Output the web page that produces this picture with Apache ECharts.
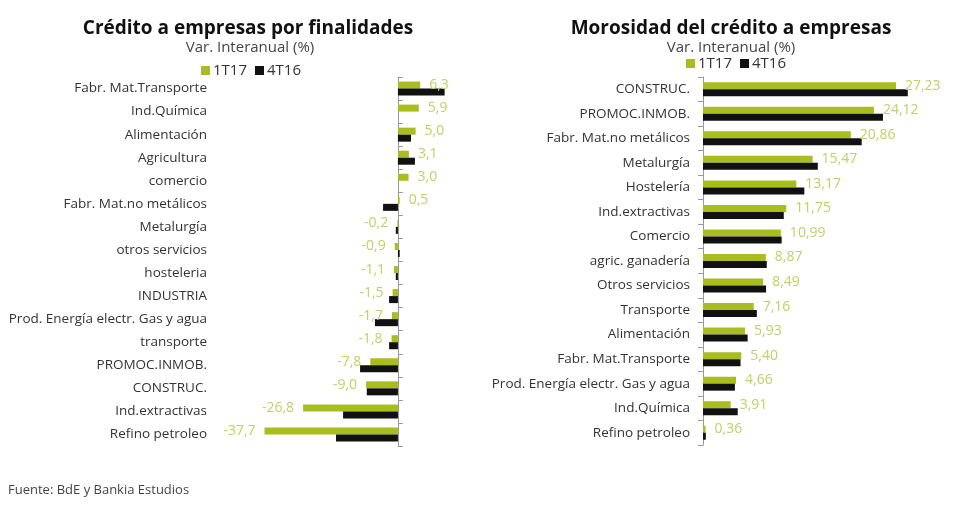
<!DOCTYPE html>
<html>
<head>
<meta charset="utf-8">
<script src="https://cdn.jsdelivr.net/npm/echarts@6/dist/echarts.min.js"></script>
<style>
  html, body { margin: 0; padding: 0; background: #fff; }
  #main { width: 976px; height: 514px; }
</style>
</head>
<body>
<div id="main"></div>
<script>
var myChart = echarts.init(document.getElementById('main'));

// Crédito a empresas por finalidades (var. interanual %)
var catsCredito = ['Fabr. Mat.Transporte', 'Ind.Química', 'Alimentación', 'Agricultura', 'comercio',
    'Fabr. Mat.no metálicos', 'Metalurgía', 'otros servicios', 'hosteleria', 'INDUSTRIA',
    'Prod. Energía electr. Gas y agua', 'transporte', 'PROMOC.INMOB.', 'CONSTRUC.',
    'Ind.extractivas', 'Refino petroleo'];
var credito1T17 = [6.3, 5.9, 5.0, 3.1, 3.0, 0.5, -0.2, -0.9, -1.1, -1.5, -1.7, -1.8, -7.8, -9.0, -26.8, -37.7];
var credito4T16 = [13.2, 0, 3.7, 4.8, 0, -4.2, -0.6, 0.5, -0.6, -2.5, -6.5, -2.5, -10.7, -8.8, -15.5, -17.5];

// Morosidad del crédito a empresas
var catsMoros = ['CONSTRUC.', 'PROMOC.INMOB.', 'Fabr. Mat.no metálicos', 'Metalurgía', 'Hostelería',
    'Ind.extractivas', 'Comercio', 'agric. ganadería', 'Otros servicios', 'Transporte',
    'Alimentación', 'Fabr. Mat.Transporte', 'Prod. Energía electr. Gas y agua', 'Ind.Química',
    'Refino petroleo'];
var moros1T17 = [27.23, 24.12, 20.86, 15.47, 13.17, 11.75, 10.99, 8.87, 8.49, 7.16, 5.93, 5.40, 4.66, 3.91, 0.36];
var moros4T16 = [28.9, 25.4, 22.4, 16.2, 14.3, 11.4, 11.1, 9.0, 8.9, 7.6, 6.3, 5.3, 4.5, 4.9, 0.4];

var verde = '#a9bd1f';
var verdeTxt = '#c2d065';
var negro = '#111111';
var fuente = 'Open Sans';

// etiquetas con coma decimal, a derecha o izquierda segun signo
function etiquetas(vals, dec) {
    return vals.map(function (v) {
        return {
            value: v,
            label: {
                show: true,
                position: v < 0 ? 'left' : 'right',
                distance: 9,
                color: verdeTxt,
                fontSize: 14,
                fontFamily: fuente,
                formatter: function (p) { return p.value.toFixed(dec).replace('.', ','); }
            }
        };
    });
}

var option = {
    backgroundColor: '#fff',
    animation: false,
    textStyle: { fontFamily: fuente },
    title: [
        { text: 'Crédito a empresas por finalidades', left: 248, top: 19, padding: 0, textAlign: 'center',
          textStyle: { fontSize: 19, fontWeight: 'bold', color: '#111', fontFamily: fuente } },
        { text: 'Var. Interanual (%)', left: 250, top: 40, padding: 0, textAlign: 'center',
          textStyle: { fontSize: 15, fontWeight: 'normal', color: '#444', fontFamily: fuente } },
        { text: 'Morosidad del crédito a empresas', left: 731, top: 19, padding: 0, textAlign: 'center',
          textStyle: { fontSize: 19, fontWeight: 'bold', color: '#111', fontFamily: fuente } },
        { text: 'Var. Interanual (%)', left: 731, top: 40, padding: 0, textAlign: 'center',
          textStyle: { fontSize: 15, fontWeight: 'normal', color: '#444', fontFamily: fuente } },
        { text: 'Fuente: BdE y Bankia Estudios', left: 8, top: 484, padding: 0,
          textStyle: { fontSize: 13, fontWeight: 'normal', color: '#444', fontFamily: fuente } }
    ],
    legend: [
        { data: ['1T17', '4T16'], left: 196, top: 58, icon: 'rect', itemWidth: 9, itemHeight: 9,
          itemGap: 8, textStyle: { fontSize: 15, color: '#333', padding: [0, 0, 0, -2] } },
        { data: ['1T17', '4T16'], left: 681, top: 51, icon: 'rect', itemWidth: 9, itemHeight: 9,
          itemGap: 8, textStyle: { fontSize: 15, color: '#333', padding: [0, 0, 0, -2] } }
    ],
    grid: [
        { left: 221, width: 230, top: 77, height: 369, containLabel: false },
        { left: 703, width: 248, top: 77, height: 368, containLabel: false }
    ],
    xAxis: [
        { type: 'value', gridIndex: 0, min: -50, max: 15, show: false },
        { type: 'value', gridIndex: 1, min: 0, max: 35, show: false }
    ],
    yAxis: [
        {   // etiquetas a la izquierda
            type: 'category', gridIndex: 0, data: catsCredito, inverse: true,
            axisLine: { show: false, onZero: false }, axisTick: { show: false },
            axisLabel: { color: '#333', fontSize: 13.5, margin: 14 }
        },
        {   // linea del eje en el cero
            type: 'category', gridIndex: 0, data: catsCredito, inverse: true,
            axisLine: { show: true, onZero: true, lineStyle: { color: '#999' } },
            axisTick: { show: true, length: 5, lineStyle: { color: '#999' } },
            axisLabel: { show: false }
        },
        {
            type: 'category', gridIndex: 1, data: catsMoros, inverse: true,
            axisLine: { show: true, lineStyle: { color: '#999' } },
            axisTick: { show: true, length: 5, lineStyle: { color: '#999' } },
            axisLabel: { color: '#333', fontSize: 13.5, margin: 13 }
        }
    ],
    series: [
        { name: '1T17', type: 'bar', xAxisIndex: 0, yAxisIndex: 0, barWidth: 7, barGap: '0%',
          itemStyle: { color: verde }, data: etiquetas(credito1T17, 1) },
        { name: '4T16', type: 'bar', xAxisIndex: 0, yAxisIndex: 0, barWidth: 7, barGap: '0%',
          itemStyle: { color: negro }, data: credito4T16 },
        { name: '1T17', type: 'bar', xAxisIndex: 1, yAxisIndex: 2, barWidth: 7, barGap: '0%',
          itemStyle: { color: verde }, data: etiquetas(moros1T17, 2) },
        { name: '4T16', type: 'bar', xAxisIndex: 1, yAxisIndex: 2, barWidth: 7, barGap: '0%',
          itemStyle: { color: negro }, data: moros4T16 }
    ]
};

myChart.setOption(option);
</script>
</body>
</html>
